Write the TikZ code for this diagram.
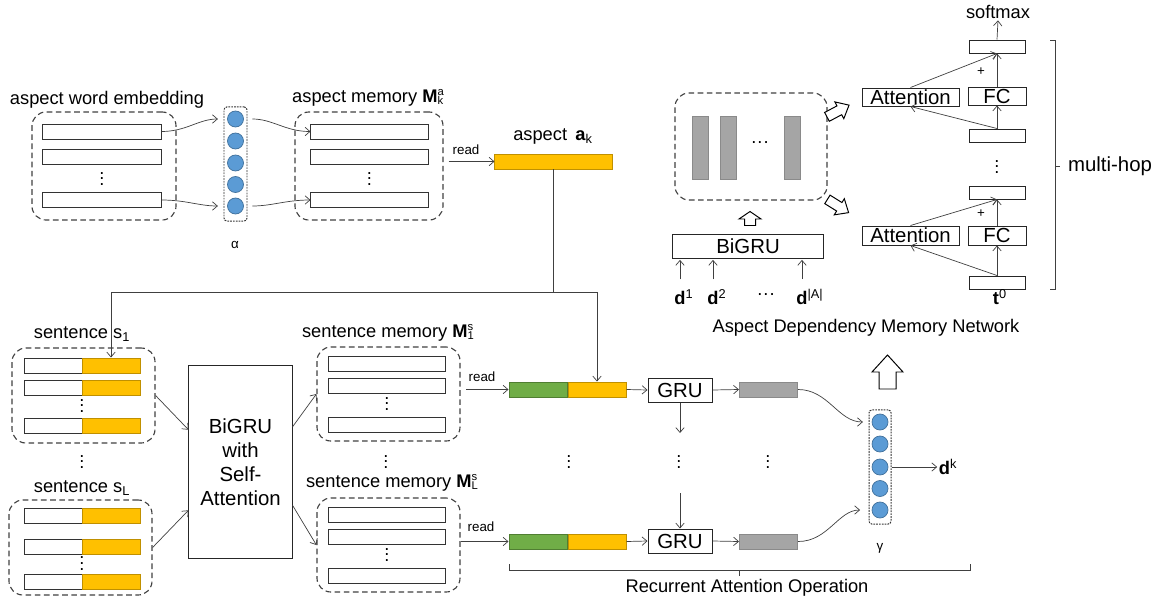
\documentclass[tikz,border=0pt]{standalone}
\usepackage{fontspec}
\setmainfont{Liberation Sans}
\usetikzlibrary{arrows.meta,calc,positioning}

\definecolor{cblue}{HTML}{5B9BD5}
\definecolor{cbluedge}{HTML}{41719C}
\definecolor{corange}{HTML}{FFC000}
\definecolor{corangedge}{HTML}{C09000}
\definecolor{cgreen}{HTML}{70AD47}
\definecolor{cgreenedge}{HTML}{507E32}
\definecolor{cgray}{HTML}{A5A5A5}
\definecolor{cgrayedge}{HTML}{8A8A8A}

\newcommand{\memsym}[2]{\textbf{M}\lower1.2pt\vbox{\fontsize{8}{8}\selectfont\baselineskip=6.6pt\lineskiplimit=-5pt\hbox{#1}\hbox{#2}}}
\newcommand{\vdts}{\vbox{\baselineskip=4.2pt\lineskiplimit=0pt\hbox{.}\hbox{.}\hbox{.}}}
% center, angle, length, head length, head half width, shaft half width
\newcommand{\blockarrow}[6]{%
  \begin{scope}[shift={#1}, rotate=#2]
  \draw[fill=white, line width=0.7pt, line join=miter] (-#3/2,-#6) -- (#3/2-#4,-#6) -- (#3/2-#4,-#5) -- (#3/2,0)
    -- (#3/2-#4,#5) -- (#3/2-#4,#6) -- (-#3/2,#6) -- cycle;
  \end{scope}}

\begin{document}
\begin{tikzpicture}[x=0.025cm, y=-0.025cm, >={Straight Barb[length=3.5pt,width=6pt]},
  every node/.style={font=\fontsize{13}{15}\selectfont},
  txt/.style={inner sep=1pt},
  small/.style={inner sep=1pt, font=\fontsize{9.5}{11}\selectfont},
  vd/.style={inner sep=0},
  group/.style={draw=black!75, dash pattern=on 4pt off 2.5pt, line width=0.8pt, rounded corners=0.35cm, inner sep=0},
  col/.style={draw=black!80, dash pattern=on 1.2pt off 0.8pt, line width=0.7pt, rounded corners=2pt, inner sep=0, minimum width=0.575cm, minimum height=2.85cm},
  dot/.style={circle, fill=cblue, draw=cbluedge, line width=0.5pt, minimum size=0.4cm, inner sep=0},
  wbar/.style={draw=black!80, fill=white, line width=0.7pt, minimum width=2.925cm, minimum height=0.375cm, inner sep=0},
  obar/.style={wbar, fill=corange, draw=corangedge},
  gbar/.style={wbar, fill=cgreen, draw=cgreenedge, minimum width=1.45cm},
  ybar/.style={wbar, fill=cgray, draw=cgrayedge, minimum width=1.45cm},
  box/.style={draw=black!85, line width=0.7pt, font=\fontsize{14.5}{17}\selectfont, inner sep=0},
  hbox/.style={draw=black!85, line width=0.7pt, minimum width=1.4cm, minimum height=0.325cm, inner sep=0},
  link/.style={->, draw=black!75, line width=0.5pt},
  dlbl/.style={inner sep=1pt, font=\fontsize{13}{15}\selectfont}]
\useasboundingbox (0,0) rectangle (1164,605);

% aspect word embedding
\node[txt] (embtitle) at (107,100) {aspect word embedding};
\node[group, minimum width=3.6cm, minimum height=2.7cm] (emb) at (104,166) {};
\node[wbar, minimum width=2.95cm] (e1) at (102,131.5) {};
\node[wbar, minimum width=2.95cm] (e2) at (102,156.5) {};
\node[vd] (edots) at (102,179) {\vdts};
\node[wbar, minimum width=2.95cm] (e4) at (102,200) {};

% alpha
\node[col] (alphacol) at (235.5,164) {};
\foreach \y [count=\i] in {119,141,163,184.5,206}
  \node[dot] (ca\i) at (235.5,\y) {};
\node[small] (alpha) at (235,245) {α};

% aspect memory
\node[txt] (amemtitle) at (368,98) {aspect memory \memsym{a}{k}};
\node[group, minimum width=3.7cm, minimum height=2.7cm] (amem) at (369,166) {};
\node[wbar] (m1) at (369.5,131.5) {};
\node[wbar] (m2) at (369.5,156.5) {};
\node[vd] (mdots) at (369.5,179) {\vdts};
\node[wbar] (m4) at (369.5,200) {};

\draw[link, shorten >=4pt] (e1.east) to[out=0,in=180] (alphacol.west |- ca1);
\draw[link, shorten >=4pt] (e4.east) to[out=0,in=180] (alphacol.west |- ca5);
\draw[link, shorten <=3.5pt] (alphacol.east |- ca1) to[out=0,in=180] (m1.west);
\draw[link, shorten <=3.5pt] (alphacol.east |- ca5) to[out=0,in=180] (m4.west);

% aspect a_k
\node[obar] (ak) at (553.5,161.5) {};
\node[txt] (aktitle) at (553,136) {aspect\hspace{0.45em}\textbf{a}\textsubscript{k}};
\node[small] (read0) at (466,150) {read};
\draw[link, shorten <=3.5pt] (amem.east |- ak) -- (ak.west);

% sentences
\node[txt] (s1title) at (82,334) {sentence s\textsubscript{1}};
\node[group, minimum width=3.575cm, minimum height=2.375cm] (s1) at (83.5,395.5) {};
\foreach \y/\n in {365.5/1, 387.5/2, 425.5/4} {
  \node[wbar, minimum width=1.45cm] (sw\n) at (53,\y) {};
  \node[obar, minimum width=1.45cm] (so\n) at (111,\y) {};
}
\node[vd] (s1dots) at (82,406) {\vdts};
\node[vd] (sdots) at (82,462) {\vdts};
\node[txt] (sLtitle) at (82,488) {sentence s\textsubscript{L}};
\node[group, minimum width=3.575cm, minimum height=2.375cm] (sL) at (80.5,547.5) {};
\foreach \y/\n in {516/1, 546.5/2, 581.5/4} {
  \node[wbar, minimum width=1.45cm] (tw\n) at (53,\y) {};
  \node[obar, minimum width=1.45cm] (to\n) at (111,\y) {};
}
\node[vd] (sLdots) at (82,563.5) {\vdts};

% self attention
\node[box, minimum width=2.575cm, minimum height=4.8cm, align=center] (sabigru) at (240.5,462) {BiGRU\\with\\Self-\\Attention};

% sentence memories
\node[txt] (sm1title) at (388,333) {sentence memory \memsym{s}{1}};
\node[group, minimum width=3.575cm, minimum height=2.35cm] (smem1) at (388.5,394) {};
\node[wbar, minimum width=2.9cm] (p1) at (387,364) {};
\node[wbar, minimum width=2.9cm] (p2) at (387,385.5) {};
\node[vd] (pdots) at (387,404) {\vdts};
\node[wbar, minimum width=2.9cm] (p4) at (387,424.5) {};
\node[vd] (smdots) at (386,462) {\vdts};
\node[txt] (smLtitle) at (392,483) {sentence memory \memsym{s}{L}};
\node[group, minimum width=3.575cm, minimum height=2.35cm] (smemL) at (388.5,545) {};
\node[wbar, minimum width=2.9cm] (q1) at (387,515) {};
\node[wbar, minimum width=2.9cm] (q2) at (387,537) {};
\node[vd] (qdots) at (387,555) {\vdts};
\node[wbar, minimum width=2.9cm] (q4) at (387,575.5) {};

\draw[link] (s1.east) -- ($(sabigru.north west)!0.333!(sabigru.south west)$);
\draw[link] (sL.east) -- ($(sabigru.north west)!0.75!(sabigru.south west)$);
\draw[link] ($(sabigru.north east)!0.318!(sabigru.south east)$) -- (smem1.west);
\draw[link] ($(sabigru.north east)!0.724!(sabigru.south east)$) -- (smemL.west);

% recurrent attention rows
\node[gbar] (gr1) at (538,389.5) {};
\node[obar, minimum width=1.45cm] (or1) at (597,389.5) {};
\node[box, minimum width=1.6cm, minimum height=0.6cm] (gru1) at (680,390) {GRU};
\node[ybar] (gy1) at (768.5,389.5) {};
\node[small] (read1) at (482,377) {read};
\draw[link, shorten <=4pt] (smem1.east |- gr1) -- (gr1.west);
\draw[link] (or1.east) -- (gru1.west);
\draw[link] (gru1.east) -- (gy1.west);

\node[gbar] (gr2) at (538,541.5) {};
\node[obar, minimum width=1.45cm] (or2) at (597,541.5) {};
\node[box, minimum width=1.6cm, minimum height=0.6cm] (gru2) at (680,541) {GRU};
\node[ybar] (gy2) at (768.5,541.5) {};
\node[small] (read2) at (481,527) {read};
\draw[link] (smemL.east |- gr2) -- (gr2.west);
\draw[link] (or2.east) -- (gru2.west);
\draw[link] (gru2.east) -- (gy2.west);

% aspect to sentence and row
\coordinate (split) at (553.5,292);
\draw[link] (ak.south) -- (split) -| (so1.north);
\draw[link] (split) -| (or1.north);

\coordinate (gdown) at (680,433);
\coordinate (gup) at (680,493);
\draw[link] (gru1.south) -- (gdown);
\draw[link] (gup) -- (gru2.north);
\node[vd] (rdots1) at (569,462) {\vdts};
\node[vd] (rdots2) at (679,462) {\vdts};
\node[vd] (rdots3) at (768,462) {\vdts};

\draw[black!75, line width=0.5pt] (509,564) -- (509,570) -- (970,570) -- (970,564) (739,570) -- (739,576);
\node[txt] (rao) at (747,588) {Recurrent Attention Operation};

% gamma
\node[col, minimum width=0.55cm] (gammacol) at (880,467) {};
\foreach \y [count=\i] in {422,444,467,488.5,510}
  \node[dot] (cg\i) at (880,\y) {};
\node[small] (gamma) at (880,548) {γ};
\draw[link, shorten >=4pt] (gy1.east) to[out=0,in=180] (gammacol.west |- cg1);
\draw[link, shorten >=6pt] (gy2.east) to[out=0,in=180] (gammacol.west |- cg5);
\node[dlbl] (dk) at (948,467) {\textbf{d}\textsuperscript{k}};
\draw[link] (gammacol.east) -- (dk.west);
\blockarrow{(887.5,372)}{90}{34}{17}{15.5}{8.5}

% aspect dependency memory network
\node[group, minimum width=3.8cm, minimum height=2.675cm] (admn) at (751,146.5) {};
\node[ybar, minimum width=0.4cm, minimum height=1.575cm] (mb1) at (700,147.5) {};
\node[ybar, minimum width=0.4cm, minimum height=1.575cm] (mb2) at (728.5,147.5) {};
\node[ybar, minimum width=0.4cm, minimum height=1.575cm] (mb3) at (792,147.5) {};
\node[txt] (mbdots) at (760,145) {···};
\blockarrow{(750,218.5)}{90}{14}{7.5}{11}{5.5}
\node[box, minimum width=3.75cm, minimum height=0.6cm] (bigru) at (748,246) {BiGRU};
\node[dlbl] (d1) at (680,297) {\textbf{d}\rlap{\textsuperscript{1}}};
\node[dlbl] (d2) at (713,297) {\textbf{d}\rlap{\textsuperscript{2}}};
\node[dlbl] (ddots) at (766,297) {···};
\node[dlbl] (dA) at (802,297) {\textbf{d}\rlap{\textsuperscript{|A|}}};
\foreach \d in {d1,d2,dA}
  \draw[link, shorten <=6pt, shorten >=1pt] (\d.north) -- (\d.north |- bigru.south);
\node[txt] (admntitle) at (866,328) {Aspect Dependency Memory Network};
\blockarrow{(838,111)}{28}{25}{11}{9.5}{5}
\blockarrow{(838,206)}{-32}{25}{11}{9.5}{5}

% hops
\node[box, minimum width=2.425cm, minimum height=0.45cm] (att1) at (910.5,97) {Attention};
\node[box, minimum width=1.45cm, minimum height=0.45cm] (fc1) at (997,96) {FC};
\node[box, minimum width=2.425cm, minimum height=0.475cm] (att0) at (910.5,235.5) {Attention};
\node[box, minimum width=1.45cm, minimum height=0.475cm] (fc0) at (997,235.5) {FC};
\node[hbox] (h3) at (997,46.5) {};
\node[hbox] (h2) at (997,135.5) {};
\node[hbox] (h1) at (997,192.5) {};
\node[hbox] (h0) at (997,282.5) {};
\node[dlbl] (t0) at (996,297) {\textbf{t}\rlap{\textsuperscript{0}}};
\node[txt] (softmax) at (998,12) {softmax};
\node[vd] (hdots) at (997,167) {\vdts};
\node[small] (plus1) at (981,72) {+};
\node[small] (plus0) at (981,214) {+};
\draw[link] (h3.north) -- (softmax.south);
\draw[link] (h2.north) -- (fc1.south);
\draw[link] (fc1.north) -- (h3.south);
\draw[link] (att1.north) -- (h3.south);
\draw[link] (h2.north) -- (att1.south);
\draw[link] (h0.north) -- (fc0.south);
\draw[link] (fc0.north) -- (h1.south);
\draw[link] (att0.north) -- (h1.south);
\draw[link] (h0.north) -- (att0.south);

\draw[black!75, line width=0.5pt] (1050,40) -- (1055,40) -- (1055,289) -- (1050,289) (1055,166) -- (1060,166);
\node[inner sep=1pt, font=\fontsize{14.5}{17}\selectfont] (hop) at (1110,166) {multi-hop};
\end{tikzpicture}
\end{document}
